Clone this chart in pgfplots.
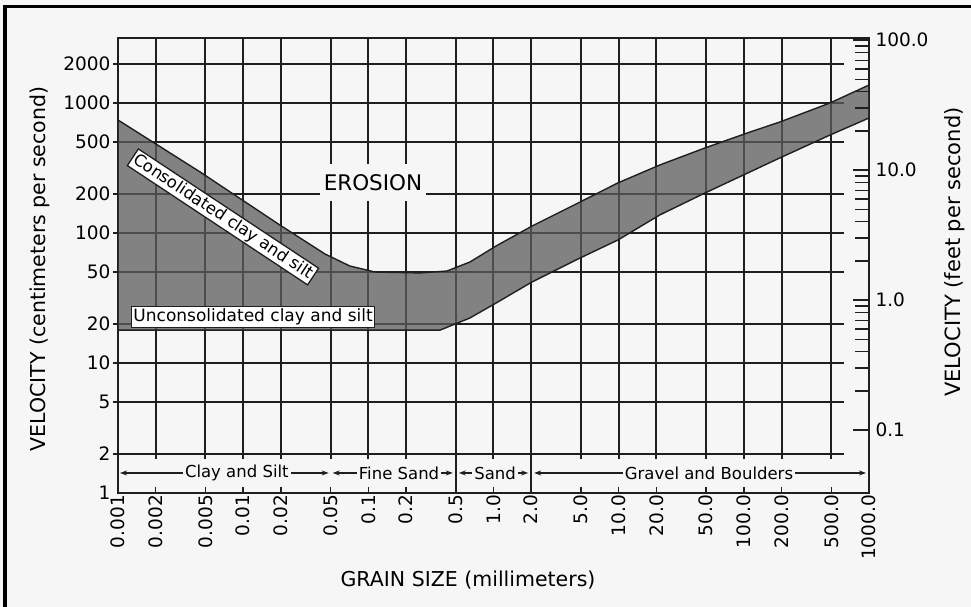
\documentclass[border=0pt]{standalone}
\usepackage{fontspec}
\setmainfont{DejaVu Sans}
\usepackage{pgfplots}
\pgfplotsset{compat=1.18}
\usetikzlibrary{arrows.meta}
\definecolor{paper}{gray}{0.965}
\definecolor{ink}{gray}{0.12}
\definecolor{band}{gray}{0.36}
\newcommand\fs[1]{\fontsize{#1}{#1}\selectfont}
\tikzset{gridl/.style={line width=2pt, ink},
  sarr/.style={ink, line width=1.3pt, {Stealth[length=7pt,width=5pt]}-{Stealth[length=7pt,width=5pt]}},
  slab/.style={fill=paper, inner xsep=2pt, inner ysep=1pt, font=\fs{16.5}}}
\begin{document}
\begin{tikzpicture}[x=1pt,y=1pt]
\useasboundingbox (-118,-114) rectangle (853,493);
\fill[paper] (-118,-114) rectangle (853,493);
\draw[black, line width=4pt] (-113,-114) -- (-113,486.5);
\draw[black, line width=3pt] (-115,486.5) -- (853,486.5);
\begin{axis}[
  at={(0,0)}, anchor=south west,
  scale only axis, width=751pt, height=455pt,
  xmode=log, ymode=log,
  xmin=0.001, xmax=1000, ymin=1, ymax=3162,
  axis line style={line width=2pt, ink},
  clip=false,
  xtick={0.001,0.002,0.005,0.01,0.02,0.05,0.1,0.2,0.5,1,2,5,10,20,50,100,200,500,1000},
  xticklabels={0.001,0.002,0.005,0.01,0.02,0.05,0.1,0.2,0.5,1.0,2.0,5.0,10.0,20.0,50.0,100.0,200.0,500.0,1000.0},
  ytick={1,2,5,10,20,50,100,200,500,1000,2000},
  yticklabels={1,2,5,10,20,50,100,200,500,1000,2000},
  xtick pos=bottom, ytick pos=left,
  tick align=inside,
  major tick length=6pt, minor tick length=0pt,
  tick style={line width=1.6pt, ink},
  ytick style={draw=none},
  xticklabel style={rotate=90, anchor=east, font=\fs{18.5}, inner sep=2pt},
  yticklabel style={font=\fs{18.5}, xshift=-4pt},
]
\pgfplotsinvokeforeach{2,5,10,20,50,100,200,500,1000,2000}{
  \draw[gridl] ([xshift=-5pt]axis cs:0.001,#1) -- (axis cs:630,#1);
}
\pgfplotsinvokeforeach{0.002,0.005,0.01,0.02,0.05,0.1,0.2,1,5,10,20,50,100,200,500}{
  \draw[gridl] ([yshift=-5pt]axis cs:#1,2) -- (axis cs:#1,3162);
}
\pgfplotsinvokeforeach{0.5,2}{
  \draw[gridl] (axis cs:#1,1) -- (axis cs:#1,3162);
}
\addplot[fill=band, fill opacity=0.75, draw=ink, line width=1.4pt] coordinates {
 (0.001,740) (0.00452,295) (0.0197,115) (0.0451,68.9) (0.0713,55.7) (0.113,50.1)
 (0.259,49.3) (0.425,51.0) (0.648,59.8) (1.047,79.4) (2.03,113) (4.91,173)
 (9.88,243) (21.4,334) (48.9,451) (112,598) (194,714) (488,1000) (1000,1375)
 (1000,767) (488,567) (194,378) (112,295) (48.9,203) (21.4,138) (9.88,88.4)
 (4.91,64.2) (2.03,42.0) (1.047,28.9) (0.648,22.2) (0.374,17.9) (0.001,17.9)
} -- cycle;
\node[fill=white, draw=ink, line width=1.3pt, rotate=-33.5, inner sep=2pt, font=\fs{16.5}] at (axis cs:0.0069,133) {Consolidated clay and silt};
\node[fill=white, draw=ink, line width=1.3pt, inner sep=2pt, font=\fs{17}] at (axis cs:0.012,22.6) {Unconsolidated clay and silt};
\node[fill=paper, inner xsep=4pt, minimum height=37pt, font=\fs{21.5}] at (axis cs:0.109,243) {EROSION};
\draw[sarr] ([xshift=2pt]axis cs:0.001,1.426) -- ([xshift=-2pt]axis cs:0.05,1.426);
\node[slab] at (axis cs:0.0089,1.426) {Clay and Silt};
\draw[sarr] ([xshift=2pt]axis cs:0.05,1.426) -- ([xshift=-3pt]axis cs:0.5,1.426);
\node[slab] at (axis cs:0.176,1.426) {Fine Sand};
\draw[sarr] ([xshift=3pt]axis cs:0.5,1.426) -- ([xshift=-3pt]axis cs:2,1.426);
\node[slab] at (axis cs:1.03,1.426) {Sand};
\draw[sarr] ([xshift=3pt]axis cs:2,1.426) -- ([xshift=-3pt]axis cs:1000,1.426);
\node[slab] at (axis cs:52.7,1.426) {Gravel and Boulders};
\end{axis}
\begin{axis}[
  at={(0,0)}, anchor=south west,
  scale only axis, width=751pt, height=455pt,
  xmode=log, xmin=0.001, xmax=1000, hide x axis,
  ymode=log, ymin=0.032808, ymax=103.74,
  axis y line*=right,
  axis line style={draw=none},
  ytick={0.1,1,10,100}, yticklabels={0.1,1.0,10.0,100.0},
  minor ytick={0.2,0.3,0.4,0.5,0.6,0.7,0.8,0.9,2,3,4,5,6,7,8,9,20,30,40,50,60,70,80,90},
  tick align=inside, major tick length=16pt, minor tick length=14pt,
  tick style={line width=1.3pt, ink},
  yticklabel style={font=\fs{18.5}, xshift=3pt},
]
\addplot[draw=none] coordinates {(1,1)};
\end{axis}
\node[rotate=90, font=\fs{20.5}] at (-78,224) {VELOCITY (centimeters per second)};
\node[rotate=90, font=\fs{21}] at (837,241) {VELOCITY (feet per second)};
\node[font=\fs{20.5}] at (350,-87) {GRAIN SIZE (millimeters)};
\end{tikzpicture}
\end{document}
